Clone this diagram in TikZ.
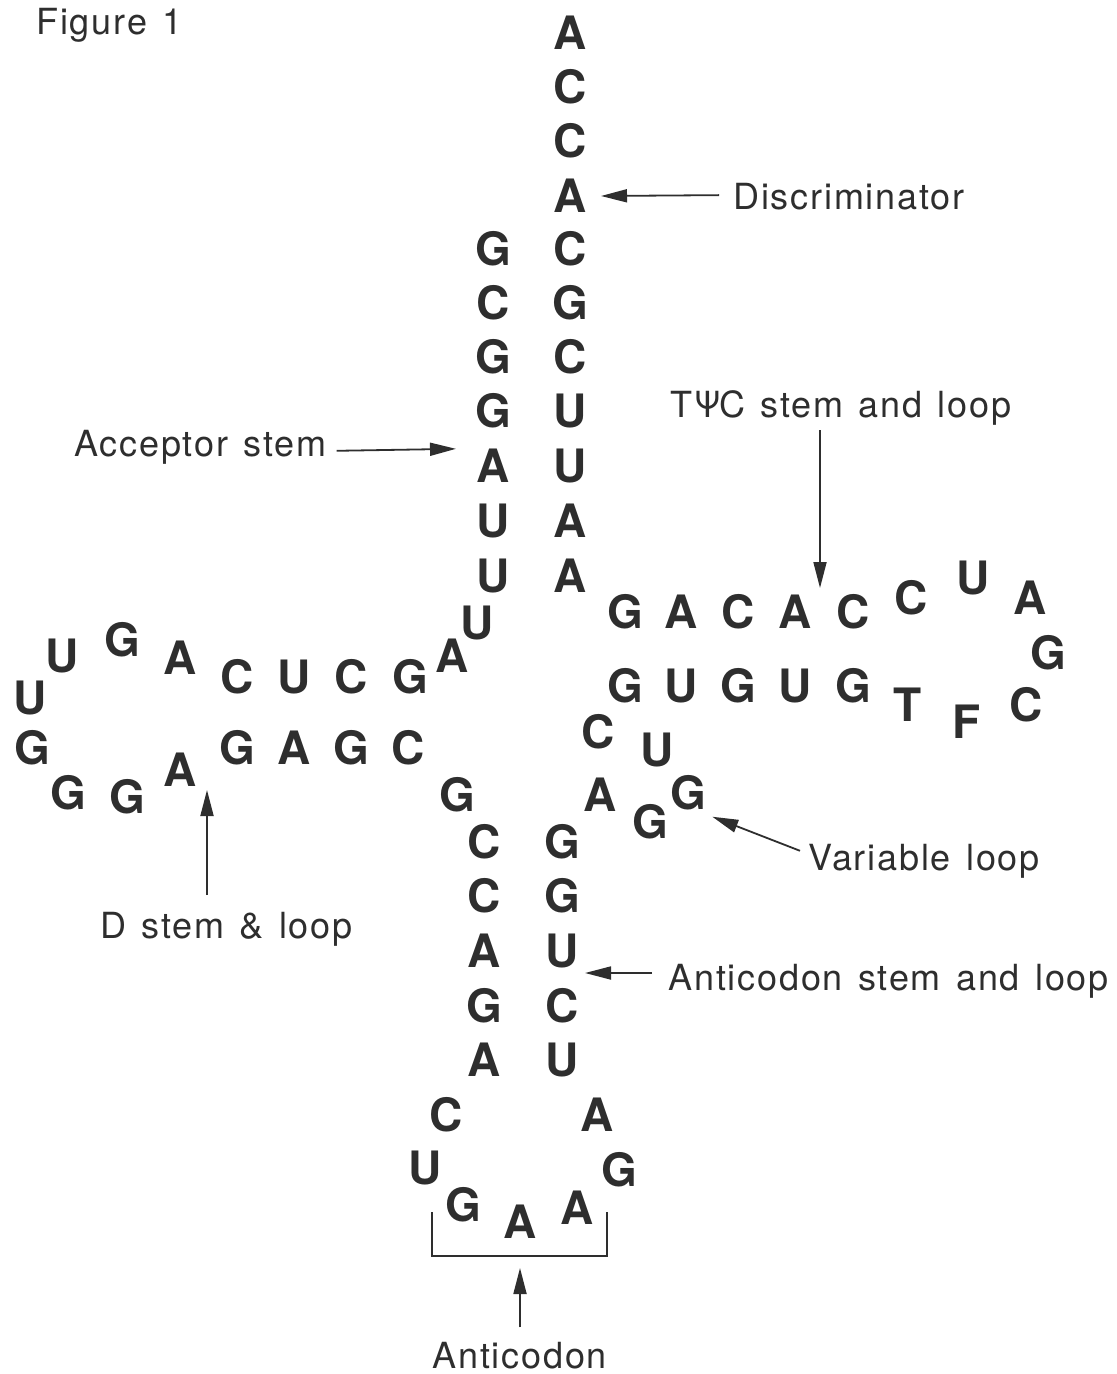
\documentclass[tikz,border=0pt]{standalone}
\usepackage{fontspec}
\setmainfont{TeX Gyre Heros}
\newfontfamily\labelfont[LetterSpace=5,WordSpace=1.3]{TeX Gyre Heros}
\usetikzlibrary{arrows.meta}
\definecolor{ink}{HTML}{2E2E2E}
\tikzset{
  nt/.style={inner sep=0pt, text=ink, font=\fontsize{23}{23}\selectfont\bfseries},
  lbl/.style={inner sep=0pt, text=ink, anchor=base west, font=\labelfont\fontsize{18}{18}\selectfont},
  arr/.style={draw=ink, line width=0.9pt, -{Triangle[length=13pt,width=6.5pt]}},
  brk/.style={draw=ink, line width=0.9pt},
}
\begin{document}
\begin{tikzpicture}[x=0.5pt, y=-0.5pt]
\useasboundingbox (0,0) rectangle (1117,1374);

% acceptor stem, 3' strand with the CCA end
\node[nt] (a1) at (570,33) {A};
\node[nt] (a2) at (570,87) {C};
\node[nt] (a3) at (570,141) {C};
\node[nt] (a4) at (570,196) {A};
\node[nt] (a5) at (570,249) {C};
\node[nt] (a6) at (570,303) {G};
\node[nt] (a7) at (570,357) {C};
\node[nt] (a8) at (570,411) {U};
\node[nt] (a9) at (570,466) {U};
\node[nt] (a10) at (570,521) {A};
\node[nt] (a11) at (570,576) {A};

% acceptor stem, 5' strand
\node[nt] (b1) at (493,249) {G};
\node[nt] (b2) at (493,303) {C};
\node[nt] (b3) at (493,357) {G};
\node[nt] (b4) at (493,411) {G};
\node[nt] (b5) at (493,466) {A};
\node[nt] (b6) at (493,521) {U};
\node[nt] (b7) at (493,576) {U};
\node[nt] (b8) at (477,623) {U};

% D stem and loop
\node[nt] (d1) at (452,656) {A};
\node[nt] (d2) at (410,677) {G};
\node[nt] (d3) at (351,677) {C};
\node[nt] (d4) at (294,677) {U};
\node[nt] (d5) at (237,677) {C};
\node[nt] (d6) at (180,658) {A};
\node[nt] (d7) at (122,640) {G};
\node[nt] (d8) at (62,656) {U};
\node[nt] (d9) at (30,698) {U};
\node[nt] (d10) at (32,748) {G};
\node[nt] (d11) at (68,793) {G};
\node[nt] (d12) at (127,797) {G};
\node[nt] (d13) at (180,770) {A};
\node[nt] (d14) at (237,748) {G};
\node[nt] (d15) at (294,748) {A};
\node[nt] (d16) at (351,748) {G};
\node[nt] (d17) at (408,748) {C};
\node[nt] (d18) at (457,795) {G};

% anticodon stem and loop
\node[nt] (c1) at (484,842) {C};
\node[nt] (c2) at (484,896) {C};
\node[nt] (c3) at (484,951) {A};
\node[nt] (c4) at (484,1006) {G};
\node[nt] (c5) at (484,1060) {A};
\node[nt] (c6) at (446,1115) {C};
\node[nt] (c7) at (425,1168) {U};
\node[nt] (c8) at (463,1205) {G};
\node[nt] (c9) at (520,1222) {A};
\node[nt] (c10) at (577,1208) {A};
\node[nt] (c11) at (619,1170) {G};
\node[nt] (c12) at (597,1115) {A};
\node[nt] (c13) at (562,1060) {U};
\node[nt] (c14) at (562,1006) {C};
\node[nt] (c15) at (562,951) {U};
\node[nt] (c16) at (562,896) {G};
\node[nt] (c17) at (562,842) {G};

% variable loop
\node[nt] (v1) at (600,795) {A};
\node[nt] (v2) at (650,822) {G};
\node[nt] (v3) at (688,793) {G};
\node[nt] (v4) at (657,750) {U};
\node[nt] (v5) at (598,732) {C};

% T stem and loop
\node[nt] (t1) at (625,686) {G};
\node[nt] (t2) at (681,686) {U};
\node[nt] (t3) at (738,686) {G};
\node[nt] (t4) at (795,686) {U};
\node[nt] (t5) at (853,686) {G};
\node[nt] (t6) at (908,705) {T};
\node[nt] (t7) at (967,722) {F};
\node[nt] (t8) at (1026,705) {C};
\node[nt] (t9) at (1048,653) {G};
\node[nt] (t10) at (1030,598) {A};
\node[nt] (t11) at (973,578) {U};
\node[nt] (t12) at (911,598) {C};
\node[nt] (t13) at (853,612) {C};
\node[nt] (t14) at (795,612) {A};
\node[nt] (t15) at (738,612) {C};
\node[nt] (t16) at (681,612) {A};
\node[nt] (t17) at (625,612) {G};

% labels
\node[lbl] (fig) at (36,35) {Figure 1};
\node[lbl] (discr) at (733,210) {Discriminator};
\node[lbl] (accl) at (74,456) {Acceptor stem};
\node[lbl] (tpsi) at (670,417) {T\kern1pt Ψ\kern-1pt C stem and loop};
\node[lbl] (varl) at (808,870) {Variable loop};
\node[lbl] (dl) at (100,938) {D stem \& loop};
\node[lbl] (acl) at (668,990) {Anticodon stem and loop};
\node[lbl] (anti) at (432,1368) {Anticodon};

% pointers
\draw[arr] ([xshift=-7pt,yshift=1pt]discr.west) -- ([xshift=7pt]a4.east);
\draw[arr] ([xshift=5pt,yshift=-2pt]accl.east) -- ([xshift=-10pt]b5.north west);
\coordinate (tpsitop) at (820,430);
\coordinate (tpsitip) at (820,588);
\draw[arr] (tpsitop) -- (tpsitip);
\draw[arr] ([xshift=-4pt,yshift=5pt]varl.west) -- ([xshift=3pt,yshift=-3pt]v3.south east);
\coordinate (actip) at (585,973);
\draw[arr] ([xshift=-8pt]acl.west |- actip) -- (actip);
\coordinate (dtail) at (207,895);
\coordinate (dtip) at (207,790);
\draw[arr] (dtail) -- (dtip);

% anticodon bracket
\coordinate (bl) at (432,1212);
\coordinate (br) at (607,1212);
\coordinate (bm) at (520,1256);
\draw[brk] (bl) -- (bl |- bm) -- (br |- bm) -- (br);
\draw[arr] ([yshift=7pt]anti.north -| bm) -- ([yshift=-6pt]bm);
\end{tikzpicture}
\end{document}
